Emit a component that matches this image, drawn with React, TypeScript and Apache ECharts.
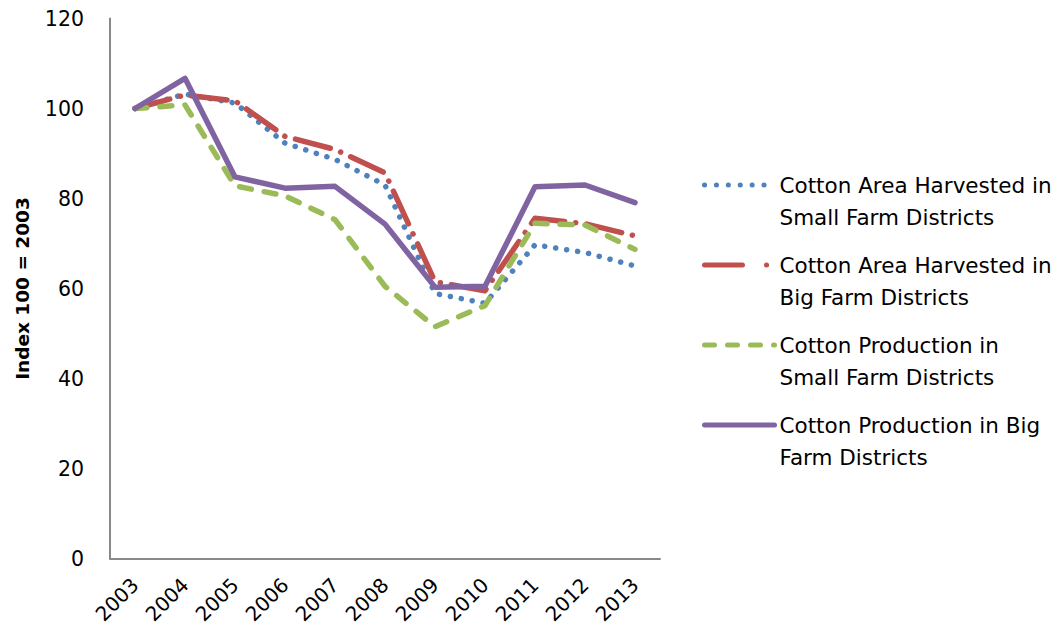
import React, { useEffect, useRef } from "react";
import * as echarts from "echarts";

const years = ["2003", "2004", "2005", "2006", "2007", "2008", "2009", "2010", "2011", "2012", "2013"];
const smallArea = [100, 103.2, 101.2, 92.3, 88.7, 83.0, 58.9, 56.7, 69.7, 68.0, 65.0];
const bigArea = [100, 103.0, 101.7, 93.8, 90.9, 85.7, 61.5, 59.5, 75.6, 74.4, 71.7];
const smallProd = [100, 100.8, 82.8, 80.6, 75.3, 60.5, 51.5, 56.2, 74.5, 74.1, 68.7];
const bigProd = [100, 106.7, 84.8, 82.3, 82.7, 74.3, 60.3, 60.5, 82.6, 83.0, 79.1];
const seriesNames = [
  "Cotton Area Harvested in\nSmall Farm Districts",
  "Cotton Area Harvested in\nBig Farm Districts",
  "Cotton Production in\nSmall Farm Districts",
  "Cotton Production in Big\nFarm Districts",
];
const yTicks = { min: 0, max: 120, interval: 20 };

const FONT = "DejaVu Sans";

export default function App() {
  const ref = useRef<HTMLDivElement>(null);
  useEffect(() => {
    document.body.style.margin = "0";
    const chart = echarts.init(ref.current!, null, { renderer: "svg" });
    const colors = ["#4F81BD", "#C0504D", "#9BBB59", "#8064A2"];
    const dashes: any[] = [[0.1, 11], [36, 11, 0.1, 11], [12, 13], "solid"];
    const legendDashes: any[] = [[0.1, 11.8], [38, 24, 0.1, 30], [10, 13], "solid"];
    const datas = [smallArea, bigArea, smallProd, bigProd];
    const legendTops = [137, 217, 297, 377];
    chart.setOption({
      animation: false,
      textStyle: { fontFamily: FONT },
      grid: { left: 110, top: 18.5, width: 550, height: 540, containLabel: false },
      legend: seriesNames.map((n, i) => ({
        data: [n],
        left: 702,
        top: legendTops[i],
        padding: 0,
        itemWidth: 70,
        itemHeight: 10,
        itemGap: 5,
        selectedMode: false,
        formatter: (name: string) => " \n" + name,
        itemStyle: { opacity: 0 },
        lineStyle: { width: 5, type: legendDashes[i], cap: "round", color: colors[i] },
        textStyle: {
          fontFamily: FONT,
          fontSize: 21.5,
          lineHeight: 32,
          color: "#000",
        },
      })),
      xAxis: {
        type: "category",
        data: years,
        boundaryGap: true,
        axisLine: { lineStyle: { color: "#898989", width: 2 } },
        axisTick: { show: false },
        axisLabel: { rotate: 45, fontSize: 20, color: "#000", margin: 23, fontFamily: FONT },
      },
      yAxis: {
        type: "value",
        min: yTicks.min,
        max: yTicks.max,
        interval: yTicks.interval,
        name: "Index 100 = 2003",
        nameLocation: "middle",
        nameGap: 78,
        nameTextStyle: { fontSize: 18.5, fontWeight: "bold", color: "#000", fontFamily: FONT },
        axisLine: { show: true, lineStyle: { color: "#898989", width: 2 } },
        axisTick: { show: false },
        splitLine: { show: false },
        axisLabel: { fontSize: 20.5, color: "#000", margin: 26, fontFamily: FONT },
      },
      series: seriesNames.map((n, i) => ({
        name: n,
        type: "line",
        data: datas[i],
        symbol: "none",
        color: colors[i],
        lineStyle: { color: colors[i], width: 5.5, type: dashes[i], cap: "round", join: "round" },
      })),
    });
    return () => chart.dispose();
  }, []);
  return <div ref={ref} style={{ width: 1056, height: 632 }} />;
}
